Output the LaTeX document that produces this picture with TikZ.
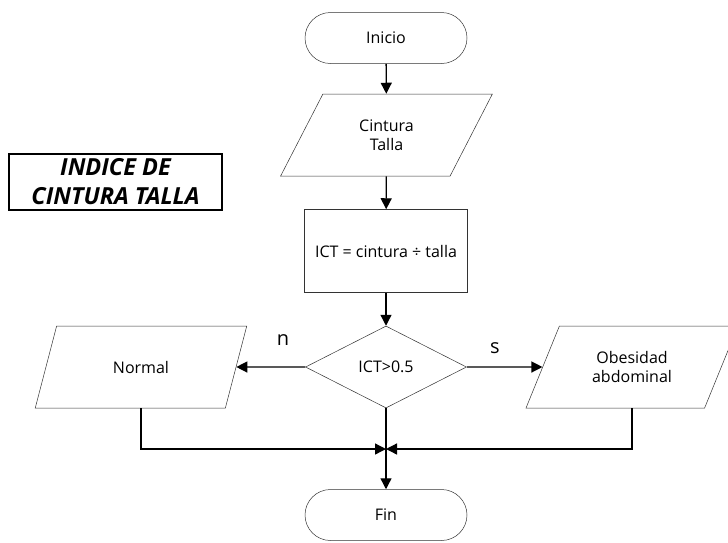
\documentclass[tikz,border=0pt]{standalone}
\usepackage{fontspec}
\setmainfont{Open Sans}
\usetikzlibrary{shapes.geometric,shapes.misc,arrows.meta}

\tikzset{
  forma/.style={draw=black!80, line width=0.5pt, inner sep=0pt, align=center,
    font=\fontsize{16}{19.5}\selectfont},
  terminal/.style={forma, rounded rectangle, minimum width=162pt, minimum height=51pt},
  datos/.style={forma, trapezium, trapezium left angle=60, trapezium right angle=120,
    trapezium stretches=true, minimum width=212pt, minimum height=82pt},
  proceso/.style={forma, rectangle, minimum width=163pt, minimum height=83pt},
  decision/.style={forma, diamond, aspect=2, minimum width=161pt, minimum height=82pt},
  flecha/.style={line width=1.3pt, -{Triangle[length=11pt,width=11pt]}},
  etiqueta/.style={inner sep=0pt, font=\fontsize{20}{24}\selectfont},
  titulo/.style={draw, line width=1.2pt, inner sep=0pt, align=center,
    minimum width=213pt, minimum height=56pt,
    font=\fontsize{23.5}{29}\selectfont\bfseries\itshape}
}

\begin{document}
\begin{tikzpicture}[x=1pt,y=-1pt]
\useasboundingbox (0,0) rectangle (728,542);
% nodos
\node[terminal] (inicio) at (386,38) {Inicio};
\node[datos] (cintura) at (386.5,135) {Cintura\\Talla};
\node[proceso] (ict) at (386,251) {ICT = cintura ÷ talla};
\node[decision] (dec) at (386,367) {ICT>0.5};
\node[datos] (normal) at (141,367) {Normal};
\node[datos] (obes) at (632,367) {Obesidad\\abdominal};
\node[terminal] (fin) at (386,515) {Fin};
\node[titulo] (titulo) at (115.5,182) {INDICE DE\\CINTURA TALLA};
\coordinate (union) at (386,449);
% conectores
\draw[flecha] (inicio) -- (cintura);
\draw[flecha] (cintura) -- (ict);
\draw[flecha] (ict) -- (dec);
\draw[flecha] (dec.west) -- (normal);
\draw[flecha] (dec.east) -- (obes);
\node[etiqueta] (n) at (283,340) {n};
\node[etiqueta] (s) at (495,348) {s};
\draw[flecha] (normal.center |- normal.south) |- (union);
\draw[flecha] (obes.center |- obes.south) |- (union);
\draw[flecha] (dec.south) -- (fin.north);
\end{tikzpicture}
\end{document}
